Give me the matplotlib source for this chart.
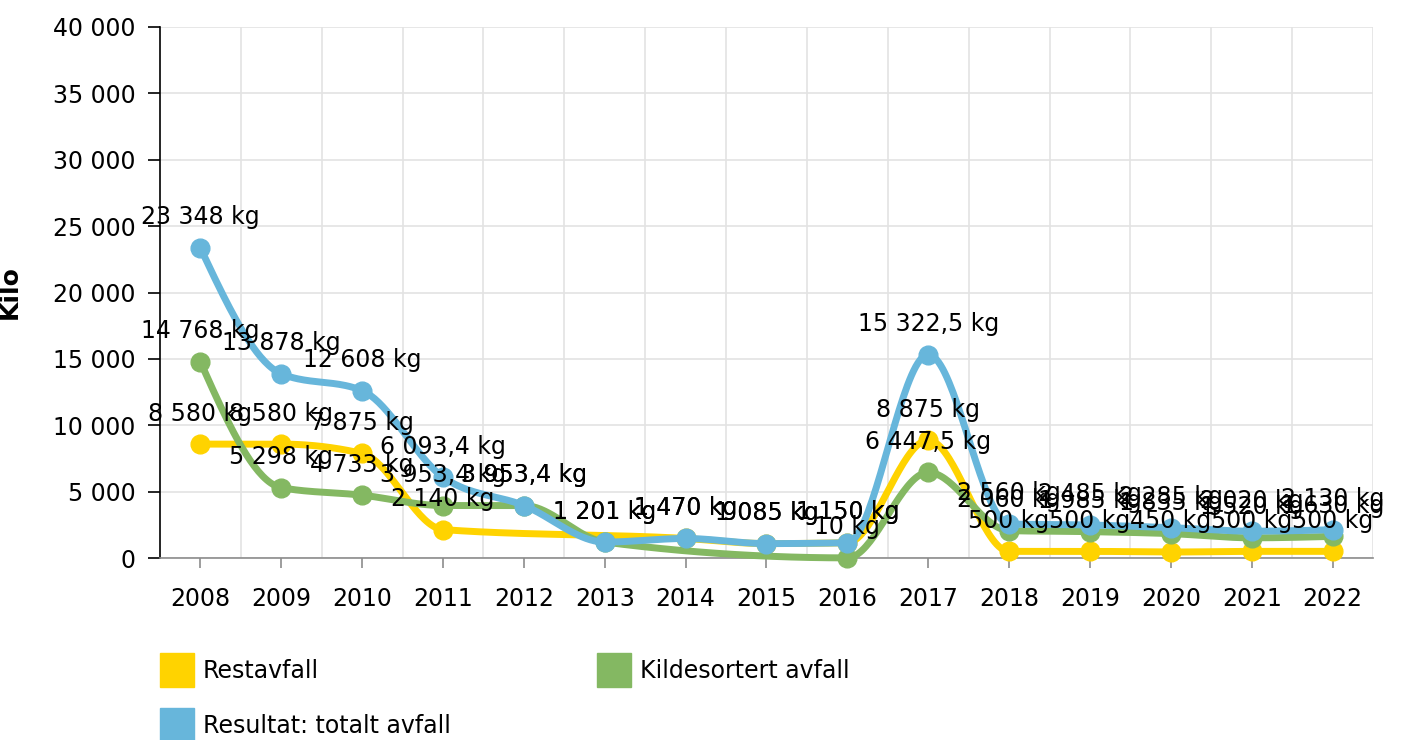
import numpy as np
import matplotlib
matplotlib.use("Agg")
import matplotlib.pyplot as plt
from matplotlib.patches import Patch
from matplotlib.ticker import FuncFormatter, MultipleLocator, FixedLocator

nan = np.nan

# Data
years = [2008, 2009, 2010, 2011, 2012, 2013, 2014, 2015, 2016, 2017, 2018, 2019, 2020, 2021, 2022]
restavfall = [8580, 8580, 7875, 2140, nan, nan, 1470, 1085, 1150, 8875, 500, 500, 450, 500, 500]
kildesortert = [14768, 5298, 4733, 3953.4, 3953.4, 1201, nan, nan, 10, 6447.5, 2060, 1985, 1835, 1520, 1630]
totalt = [23348, 13878, 12608, 6093.4, 3953.4, 1201, 1470, 1085, 1150, 15322.5, 2560, 2485, 2285, 2020, 2130]

series_names = ["Restavfall", "Kildesortert avfall", "Resultat: totalt avfall"]
series_data = [restavfall, kildesortert, totalt]
colors = ["#FFD300", "#84B862", "#67B6DB"]

FS = 17
plt.rcParams["font.family"] = ["DejaVu Sans"]


def fmt_num(v):
    if float(v).is_integer():
        s = f"{int(v):,}".replace(",", " ")
    else:
        s = f"{v:,.1f}".replace(",", " ").replace(".", ",")
    return s


def monotone(xs, ys, steps=40):
    # monotone cubic curve (same idea as d3 curveMonotoneX)
    xs = np.asarray(xs, float)
    ys = np.asarray(ys, float)
    n = len(xs)
    h = np.diff(xs)
    s = np.diff(ys) / h
    t = np.zeros(n)
    for i in range(1, n - 1):
        p = (s[i - 1] * h[i] + s[i] * h[i - 1]) / (h[i - 1] + h[i])
        t[i] = (np.sign(s[i - 1]) + np.sign(s[i])) * min(abs(s[i - 1]), abs(s[i]), 0.5 * abs(p))
    t[0] = (3 * s[0] - t[1]) / 2
    t[-1] = (3 * s[-1] - t[-2]) / 2
    px, py = [xs[0]], [ys[0]]
    u = np.linspace(0, 1, steps)[1:]
    for i in range(n - 1):
        dx = h[i] / 3
        x0, y0 = xs[i], ys[i]
        x3, y3 = xs[i + 1], ys[i + 1]
        x1, y1 = x0 + dx, y0 + dx * t[i]
        x2, y2 = x3 - dx, y3 - dx * t[i + 1]
        bx = (1 - u) ** 3 * x0 + 3 * (1 - u) ** 2 * u * x1 + 3 * (1 - u) * u ** 2 * x2 + u ** 3 * x3
        by = (1 - u) ** 3 * y0 + 3 * (1 - u) ** 2 * u * y1 + 3 * (1 - u) * u ** 2 * y2 + u ** 3 * y3
        px.extend(bx)
        py.extend(by)
    return np.array(px), np.array(py)


fig = plt.figure(figsize=(14.03, 7.40), dpi=100)
W, H = 1403, 740
ax = fig.add_axes([160 / W, 1 - 558 / H, (1373 - 160) / W, (558 - 27) / H])
ax.set_xlim(2007.5, 2022.5)
ax.set_ylim(0, 40000)

# axes styling
for sp in ["top", "right"]:
    ax.spines[sp].set_visible(False)
ax.spines["left"].set_color("black")
ax.spines["left"].set_linewidth(1.2)
ax.spines["bottom"].set_color("#8c8c8c")
ax.spines["bottom"].set_linewidth(1.2)

ax.yaxis.set_major_locator(MultipleLocator(5000))
ax.yaxis.set_major_formatter(FuncFormatter(lambda v, p: fmt_num(v)))
ax.xaxis.set_major_locator(FixedLocator(years))
ax.xaxis.set_minor_locator(FixedLocator([y + 0.5 for y in years]))
ax.set_xticklabels([str(y) for y in years])

ax.tick_params(axis="y", length=8.6, width=1.2, color="black", pad=9, labelsize=FS)
ax.tick_params(axis="x", which="major", length=7.2, width=1.2, color="#8c8c8c", pad=14, labelsize=FS)
ax.tick_params(axis="x", which="minor", length=0)

ax.grid(axis="y", which="major", color="#e3e3e3", linewidth=1.2)
ax.grid(axis="x", which="minor", color="#e3e3e3", linewidth=1.2)
ax.set_axisbelow(True)

ax.set_ylabel("Kilo", fontsize=18, fontweight="bold")
ax.yaxis.set_label_coords((22 - 160) / 1213, 0.5)

for k, (name, data, c) in enumerate(zip(series_names, series_data, colors)):
    x = np.array(years, dtype=float)
    y = np.array(data, dtype=float)
    m = ~np.isnan(y)
    cx, cy = monotone(x[m], y[m])
    ax.plot(cx, cy, color=c, linewidth=5, solid_capstyle="round", zorder=3 + k, clip_on=False)
    ax.plot(x[m], y[m], "o", color=c, markersize=13.5, zorder=3 + k, clip_on=False)

for name, data in zip(series_names, series_data):
    for x, v in zip(years, data):
        if np.isnan(v):
            continue
        ax.annotate(fmt_num(v) + " kg", (x, v), xytext=(0, 22), textcoords="offset points",
                    ha="center", va="center", fontsize=FS, color="black", zorder=10,
                    annotation_clip=False)

handles = [Patch(color=colors[0]), Patch(color=colors[2]), Patch(color=colors[1])]
labels = [series_names[0], series_names[2], series_names[1]]
fig.legend(handles, labels, loc="upper left", bbox_to_anchor=(160 / W, 1 - 653 / H),
           ncol=2, frameon=False, fontsize=FS, borderpad=0, borderaxespad=0,
           handlelength=1.44, handleheight=1.84, handletextpad=0.38,
           labelspacing=0.89, columnspacing=6.19)

fig.savefig("out.png", dpi=100)
